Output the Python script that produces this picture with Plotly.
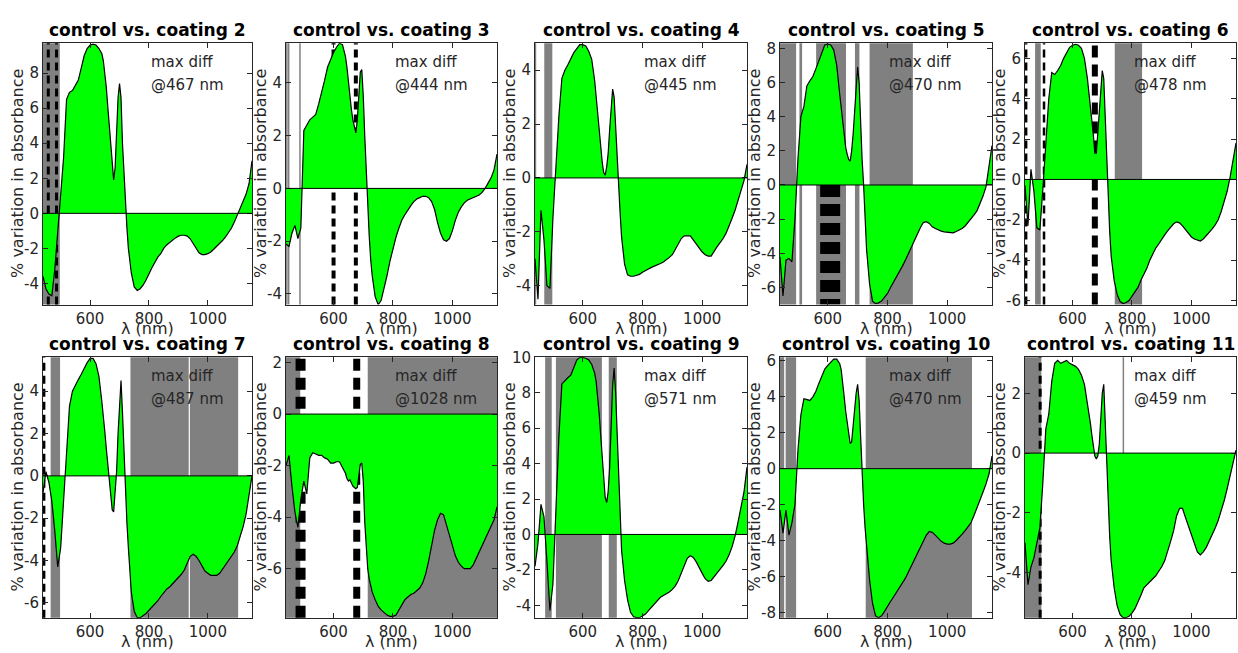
import plotly.graph_objects as go

# ---------------- data ----------------
wavelength_nm = [440, 450, 460, 470, 480, 490, 500, 510, 520, 530, 540, 550, 560, 570, 580, 590, 600, 610, 620, 630, 640,
                 645, 650, 655, 660, 665, 670, 675, 680, 685, 690, 695, 700, 705, 710, 715, 720, 725, 730,
                 740, 750, 760, 770, 780, 790, 800, 810, 820, 830, 840, 850, 860, 870, 880, 890, 900, 910, 920, 930,
                 940, 950, 960, 970, 980, 990, 1000, 1010, 1020, 1030, 1040, 1050, 1060, 1070, 1080, 1090, 1100,
                 1110, 1120, 1130, 1140, 1150]

coating2 = [-3.6, -4.3, -4.6, -4.7, -3.2, -1.0, 1.2, 3.2, 6.5, 6.9, 7.0, 7.3, 7.6, 8.3, 9.0, 9.4, 9.6, 9.65, 9.6, 9.4, 9.1,
            8.7, 8.1, 7.2, 6.1, 5.0, 3.9, 2.8, 1.9, 2.6, 4.6, 6.6, 7.4, 6.6, 4.0, 2.2, 0.6, -0.8, -2.0,
            -3.4, -4.2, -4.4, -4.3, -4.1, -3.8, -3.4, -3.1, -2.8, -2.5, -2.3, -2.0, -1.8, -1.65, -1.5, -1.4, -1.3,
            -1.25, -1.25, -1.3, -1.45, -1.7, -2.0, -2.25, -2.35, -2.35, -2.3, -2.2, -2.05, -1.9, -1.75, -1.55,
            -1.35, -1.1, -0.85, -0.5, -0.1, 0.3, 0.7, 1.1, 1.7, 3.0]
coating3 = [-2.1, -2.2, -1.7, -1.4, -1.9, -1.5, 2.2, 2.4, 2.6, 2.7, 2.8, 3.2, 3.6, 4.1, 4.6, 4.9, 5.15, 5.35, 5.5, 5.45, 5.0,
            4.6, 4.0, 3.5, 3.0, 2.6, 2.3, 2.1, 2.6, 3.6, 4.4, 4.5, 3.5, 2.0, 0.5, -0.8, -1.8, -2.7, -3.3,
            -4.1, -4.4, -4.25, -3.8, -3.3, -2.75, -2.25, -1.85, -1.5, -1.2, -1.0, -0.8, -0.65, -0.5, -0.4, -0.35,
            -0.3, -0.3, -0.35, -0.5, -0.8, -1.3, -1.7, -1.95, -2.0, -1.9, -1.6, -1.2, -0.9, -0.7, -0.55, -0.45,
            -0.4, -0.35, -0.3, -0.25, -0.15, 0.0, 0.2, 0.4, 0.7, 1.3]
coating4 = [-3.0, -4.5, -1.2, -2.3, -4.0, -4.1, -1.5, 0.6, 2.3, 3.7, 4.0, 4.2, 4.45, 4.65, 4.8, 4.95, 4.95, 4.9, 4.7, 4.4, 3.6,
            3.0, 2.3, 1.7, 1.1, 0.6, 0.2, 0.1, 0.4, 0.9, 1.8, 2.6, 3.3, 3.0, 1.8, 0.6, -0.3, -1.3, -2.2,
            -3.2, -3.6, -3.65, -3.65, -3.62, -3.58, -3.5, -3.45, -3.38, -3.32, -3.28, -3.22, -3.18, -3.12, -3.05,
            -2.95, -2.85, -2.65, -2.45, -2.25, -2.15, -2.15, -2.15, -2.3, -2.45, -2.6, -2.75, -2.85, -2.9, -2.9,
            -2.7, -2.55, -2.4, -2.25, -2.05, -1.8, -1.5, -1.2, -0.85, -0.5, -0.1, 0.5]
coating5 = [-4.2, -6.5, -4.4, -4.3, -4.5, -2.0, 1.5, 4.0, 4.6, 5.8, 6.1, 6.35, 6.8, 7.3, 7.8, 8.2, 8.25, 8.2, 7.9, 7.0, 5.3,
            4.5, 3.6, 2.8, 2.2, 1.8, 1.5, 1.4, 2.0, 3.0, 4.5, 5.8, 6.9, 6.0, 3.5, 1.5, 0.0, -2.0, -3.8,
            -5.8, -6.8, -6.95, -6.9, -6.8, -6.6, -6.35, -6.0, -5.7, -5.4, -5.1, -4.75, -4.4, -4.0, -3.6, -3.2,
            -2.8, -2.5, -2.2, -2.15, -2.25, -2.45, -2.55, -2.65, -2.7, -2.75, -2.78, -2.8, -2.8, -2.72, -2.65,
            -2.55, -2.4, -2.2, -2.0, -1.75, -1.5, -1.1, -0.65, -0.1, 1.0, 2.3]
coating6 = [-0.3, -2.3, 0.5, -0.6, -2.4, -2.5, -0.5, 2.0, 4.0, 5.3, 5.2, 5.4, 5.65, 6.0, 6.3, 6.55, 6.65, 6.7, 6.65, 6.5, 6.0,
            5.6, 5.0, 4.3, 3.7, 3.0, 2.2, 1.3, 1.3, 2.3, 3.5, 4.6, 5.4, 5.0, 3.0, 0.5, -1.2, -2.6, -3.8,
            -5.0, -5.7, -6.05, -6.15, -6.1, -6.0, -5.8, -5.6, -5.35, -5.0, -4.7, -4.4, -4.0, -3.7, -3.4, -3.2,
            -2.95, -2.75, -2.55, -2.35, -2.2, -2.1, -2.15, -2.3, -2.5, -2.7, -2.85, -2.95, -3.0, -3.05, -2.95,
            -2.8, -2.65, -2.45, -2.25, -2.0, -1.6, -1.15, -0.6, 0.1, 0.9, 1.8]
coating7 = [-0.8, 0.2, -0.3, -1.2, -2.6, -4.3, -3.4, -1.0, 1.5, 3.3, 4.0, 4.3, 4.55, 4.8, 5.1, 5.35, 5.55, 5.55, 5.3, 4.7, 3.5,
            2.9, 2.1, 1.3, 0.6, 0.0, -0.9, -1.6, -1.7, -0.8, 0.2, 2.0, 3.6, 4.5, 3.0, 1.0, -0.7, -2.2, -3.4,
            -5.5, -6.4, -6.7, -6.7, -6.6, -6.5, -6.35, -6.2, -6.05, -5.9, -5.7, -5.5, -5.35, -5.25, -5.1, -5.0,
            -4.85, -4.65, -4.45, -4.1, -3.8, -3.7, -3.8, -4.0, -4.25, -4.5, -4.6, -4.7, -4.7, -4.7, -4.6,
            -4.4, -4.2, -4.0, -3.85, -3.6, -3.3, -2.9, -2.4, -1.8, -0.9, 0.0]
coating8 = [-2.0, -1.6, -2.8, -3.8, -4.4, -3.3, -2.6, -3.1, -1.7, -1.5, -1.55, -1.6, -1.6, -1.7, -1.75, -1.9, -1.9, -1.85, -1.85, -2.1, -2.3,
            -2.5, -2.6, -2.55, -2.7, -2.8, -2.85, -2.9, -2.85, -2.4, -1.95, -1.9, -2.6, -4.2, -5.3, -6.0, -6.4, -6.7, -6.9,
            -7.2, -7.45, -7.6, -7.7, -7.8, -7.85, -7.85, -7.8, -7.6, -7.35, -7.2, -7.1, -7.0, -6.95, -6.85, -6.75,
            -6.55, -6.2, -5.7, -5.1, -4.5, -4.1, -3.85, -3.9, -4.3, -4.8, -5.2, -5.5, -5.75, -5.9, -6.0,
            -6.0, -6.0, -5.85, -5.6, -5.35, -5.1, -4.85, -4.6, -4.35, -4.1, -3.6]
coating9 = [-1.8, -0.5, 1.7, 1.0, -1.5, -4.3, -2.8, 1.5, 5.5, 8.5, 8.7, 8.85, 9.0, 9.4, 9.85, 10.0, 10.0, 9.95, 9.85, 9.6, 9.1,
            8.6, 7.8, 6.8, 5.6, 4.4, 3.2, 2.1, 1.8, 2.4, 3.8, 6.0, 8.4, 9.4, 8.0, 5.8, 3.5, 1.0, -0.9,
            -2.6, -3.7, -4.4, -4.65, -4.7, -4.7, -4.6, -4.5, -4.3, -4.1, -3.9, -3.7, -3.55, -3.45, -3.35, -3.25,
            -3.1, -2.9, -2.6, -2.15, -1.7, -1.35, -1.2, -1.3, -1.55, -1.9, -2.2, -2.5, -2.65, -2.6, -2.4,
            -2.2, -2.0, -1.75, -1.5, -1.15, -0.7, -0.1, 0.7, 1.5, 2.4, 3.8]
coating10 = [-2.3, -3.6, -2.3, -3.7, -3.0, -2.0, 1.0, 3.0, 3.9, 3.85, 3.8, 4.0, 4.3, 4.75, 5.2, 5.55, 5.75, 5.9, 6.1, 6.1, 5.85,
             5.5, 4.9, 4.0, 3.2, 2.5, 1.8, 1.4, 1.5, 2.4, 3.4, 4.2, 4.7, 3.8, 1.8, -0.3, -2.0, -3.3, -4.3,
             -6.2, -7.5, -8.2, -8.3, -8.2, -7.95, -7.65, -7.4, -7.15, -6.9, -6.65, -6.4, -6.1, -5.75, -5.4, -5.05,
             -4.75, -4.4, -4.0, -3.7, -3.5, -3.55, -3.7, -3.9, -4.05, -4.15, -4.2, -4.2, -4.15, -4.0, -3.85,
             -3.65, -3.45, -3.25, -3.0, -2.6, -2.2, -1.75, -1.3, -0.85, -0.3, 0.7]
coating11 = [-3.0, -4.4, -3.8, -3.5, -3.0, -2.5, -1.0, 0.8, 1.3, 2.4, 3.0, 3.1, 3.0, 3.05, 3.1, 3.0, 2.95, 2.9, 2.8, 2.6, 2.3,
             2.0, 1.7, 1.3, 1.0, 0.6, 0.2, -0.1, -0.2, -0.1, 0.3, 1.0, 2.0, 2.3, 1.0, -0.3, -1.7, -2.8, -3.6,
             -4.5, -5.1, -5.4, -5.5, -5.5, -5.45, -5.35, -5.2, -5.0, -4.75, -4.5, -4.4, -4.3, -4.2, -4.1, -3.95,
             -3.8, -3.6, -3.3, -2.95, -2.6, -2.1, -1.85, -1.85, -2.15, -2.45, -2.75, -3.05, -3.3, -3.4, -3.3,
             -3.15, -2.95, -2.75, -2.5, -2.25, -1.95, -1.6, -1.2, -0.75, -0.3, 0.1]

series = [coating2, coating3, coating4, coating5, coating6, coating7, coating8, coating9, coating10, coating11]
panel_titles = ["control vs. coating %d" % k for k in range(2, 12)]
max_diff_nm = [467, 444, 445, 470, 478, 487, 1028, 571, 470, 459]

# y-limits of each panel (tight, as in the reference)
y_limits = [(-5.2, 9.7), (-4.4, 5.5), (-4.7, 5.0), (-7.0, 8.3), (-6.2, 6.75),
            (-6.7, 5.6), (-7.9, 2.2), (-4.7, 10.0), (-8.3, 6.2), (-5.5, 3.2)]
x_ticks = [600, 800, 1000]

# shaded wavelength ranges (nm)
gray_bands = [
    [(440, 497)],
    [],
    [(440, 444), (471, 498)],
    [(440, 494), (505, 514), (561, 661), (691, 706), (740, 885)],
    [(474, 493), (742, 834)],
    [(466, 498), (737, 935), (939, 1103)],
    [(440, 488), (715, 1150)],
    [(474, 496), (510, 664), (687, 714)],
    [(440, 454), (459, 494), (727, 1083)],
    [(440, 495)],
]
thin_gray_lines_nm = [[], [443, 449, 487], [], [], [], [], [], [], [], [771]]
dashed_lines_nm = [[458, 486], [600, 675], [], [608], [443, 504, 675], [443], [489, 678], [], [], [491]]
dashed_widths = [[3, 3], [4, 4], [], [20], [3, 2.5, 6], [3], [10, 7], [], [], [3]]
dashed_below_zero_only = [[False, False], [False, False], [], [True], [False, False, False], [False],
                          [False, False], [], [], [False]]

# ---------------- layout geometry ----------------
W, H = 1238, 653
cols_px = [(43, 252), (286, 497), (535, 747), (780, 992), (1025, 1236)]
rows_px = [(35, 302), (356, 622)]

FONT = "DejaVu Sans"
DARK = "#262626"
GREEN = "#00FF00"
GRAY = "#808080"

fig = go.Figure()
shapes = []
annotations = []

for i in range(10):
    r, c = divmod(i, 5)
    n = i + 1
    xa = "x" if n == 1 else "x%d" % n
    ya = "y" if n == 1 else "y%d" % n
    l, rr = cols_px[c]
    t, b = rows_px[r]
    xdom = [l / W, rr / W]
    ydom = [1 - b / H, 1 - t / H]

    fig.add_trace(go.Scatter(
        x=wavelength_nm, y=series[i], mode="lines", fill="tozeroy",
        fillcolor=GREEN, line=dict(color="black", width=1.2),
        xaxis=xa, yaxis=ya, showlegend=False, hoverinfo="skip"))

    lo, hi = y_limits[i]
    yt = [v for v in range(-10, 12, 2) if lo <= v <= hi]
    axis_common = dict(showline=True, linecolor=DARK, linewidth=1, mirror="ticks",
                       ticks="inside", ticklen=5, tickcolor=DARK, showgrid=False,
                       zeroline=False, tickfont=dict(family=FONT, size=15, color=DARK))
    fig.layout["xaxis" if n == 1 else "xaxis%d" % n] = dict(
        domain=xdom, anchor=ya, range=[440, 1150], tickvals=x_ticks,
        ticktext=[str(v) for v in x_ticks], **axis_common)
    fig.layout["yaxis" if n == 1 else "yaxis%d" % n] = dict(
        domain=ydom, anchor=xa, range=[lo, hi], tickvals=yt,
        ticktext=[str(v) for v in yt], **axis_common)

    yd = ya + " domain"
    for (a0, a1) in gray_bands[i]:
        shapes.append(dict(type="rect", xref=xa, yref=yd, x0=a0, x1=a1, y0=0, y1=1,
                           fillcolor=GRAY, line=dict(width=0), layer="below"))
    for xl in thin_gray_lines_nm[i]:
        shapes.append(dict(type="line", xref=xa, yref=yd, x0=xl, x1=xl, y0=0, y1=1,
                           line=dict(color=GRAY, width=1.5), layer="below"))
    for xl, wd, bz in zip(dashed_lines_nm[i], dashed_widths[i], dashed_below_zero_only[i]):
        dash = "12px,7px" if wd >= 6 else "8px,5px"
        if bz:
            shapes.append(dict(type="line", xref=xa, yref=ya, x0=xl, x1=xl, y0=0, y1=lo,
                               line=dict(color="black", width=wd, dash=dash), layer="below"))
        else:
            shapes.append(dict(type="line", xref=xa, yref=yd, x0=xl, x1=xl, y0=0, y1=1,
                               line=dict(color="black", width=wd, dash=dash), layer="below"))
    # zero line
    shapes.append(dict(type="line", xref=xa + " domain", yref=ya, x0=0, x1=1, y0=0, y1=0,
                       line=dict(color="black", width=1), layer="above"))

    xc = (xdom[0] + xdom[1]) / 2
    annotations.append(dict(text="<b>%s</b>" % panel_titles[i], xref="paper", yref="paper",
                            x=xc, y=ydom[1], yshift=13, xanchor="center", yanchor="middle",
                            showarrow=False, font=dict(family=FONT, size=17, color="black")))
    annotations.append(dict(text="max diff", xref=xa, yref=yd, x=800, y=1, yshift=-19,
                            xanchor="left", yanchor="middle", showarrow=False,
                            font=dict(family=FONT, size=15, color=DARK)))
    annotations.append(dict(text="@%d nm" % max_diff_nm[i], xref=xa, yref=yd, x=800, y=1, yshift=-42,
                            xanchor="left", yanchor="middle", showarrow=False,
                            font=dict(family=FONT, size=15, color=DARK)))
    annotations.append(dict(text="% variation in absorbance", xref="paper", yref="paper",
                            x=xdom[0], xshift=-25, y=(ydom[0] + ydom[1]) / 2, textangle=-90,
                            xanchor="center", yanchor="middle", showarrow=False,
                            font=dict(family=FONT, size=16, color=DARK)))
    annotations.append(dict(text="λ (nm)", xref="paper", yref="paper",
                            x=xc, y=ydom[0], yshift=-24, xanchor="center", yanchor="middle",
                            showarrow=False, font=dict(family=FONT, size=16, color=DARK)))

fig.update_layout(width=W, height=H, margin=dict(l=0, r=0, t=0, b=0),
                  paper_bgcolor="white", plot_bgcolor="white",
                  shapes=shapes, annotations=annotations, showlegend=False)

fig.write_html("out.html", config={"displayModeBar": False},
               post_script="document.body.style.margin='0';document.body.style.overflow='hidden';")
